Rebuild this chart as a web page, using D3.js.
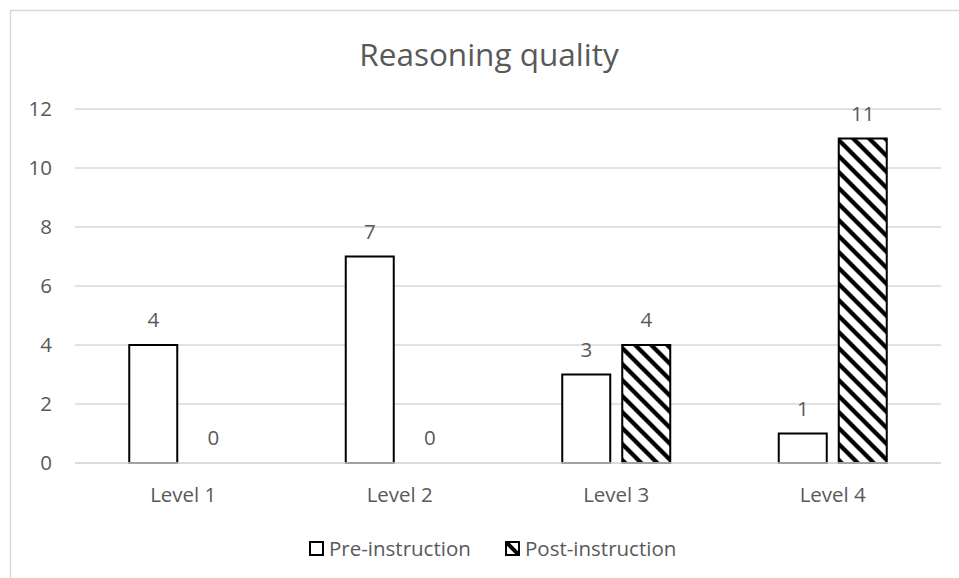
<!DOCTYPE html>
<html>
<head>
<meta charset="utf-8">
<script src="https://cdn.jsdelivr.net/npm/d3@7"></script>
<style>
  html, body { margin: 0; padding: 0; background: #fff; }
  svg { display: block; }
  text { font-family: "Open Sans", "Noto Sans", sans-serif; fill: #595959; }
</style>
</head>
<body>
<svg id="chart" width="959" height="578"></svg>
<script>
const title = "Reasoning quality";
const categories = ["Level 1", "Level 2", "Level 3", "Level 4"];
const seriesNames = ["Pre-instruction", "Post-instruction"];
const preValues = [4, 7, 3, 1];
const postValues = [0, 0, 4, 11];
const yTicks = [0, 2, 4, 6, 8, 10, 12];

const svg = d3.select("#chart");
const W = 959, H = 578;
const plot = { left: 75, right: 941, top: 109, bottom: 463 };

// pattern: wide downward diagonal
const defs = svg.append("defs");
const pat = defs.append("pattern")
  .attr("id", "hatch")
  .attr("patternUnits", "userSpaceOnUse")
  .attr("width", 16).attr("height", 16);
pat.append("rect").attr("width", 16).attr("height", 16).attr("fill", "#fff");
pat.append("path")
  .attr("d", "M-4,-4 L20,20 M-4,12 L4,20 M12,-4 L20,4")
  .attr("stroke", "#000").attr("stroke-width", 4.3);

const legPat = defs.append("pattern")
  .attr("id", "hatchLeg")
  .attr("patternUnits", "userSpaceOnUse")
  .attr("width", 14).attr("height", 14)
  .attr("x", 0).attr("y", 0);
legPat.append("rect").attr("width", 14).attr("height", 14).attr("fill", "#fff");
legPat.append("path")
  .attr("d", "M-3,-3 L17,17")
  .attr("stroke", "#000").attr("stroke-width", 4);

// chart border
svg.append("rect")
  .attr("x", 10.5).attr("y", 10.5)
  .attr("width", 980).attr("height", 600)
  .attr("fill", "none").attr("stroke", "#d9d9d9").attr("stroke-width", 1.5);

const y = d3.scaleLinear().domain([0, 12]).range([plot.bottom, plot.top]);
const x0 = d3.scaleBand().domain(categories).range([plot.left, plot.right]).padding(0);
const groupW = 108;
const x1 = d3.scaleBand().domain(seriesNames).range([0, groupW]).paddingInner(0.2).paddingOuter(0);
const groupOffset = (x0.bandwidth() - groupW) / 2;

// gridlines
svg.append("g").selectAll("line").data(yTicks).join("line")
  .attr("x1", plot.left).attr("x2", plot.right)
  .attr("y1", d => y(d)).attr("y2", d => y(d))
  .attr("stroke", "#d9d9d9").attr("stroke-width", 1.5);

// y tick labels
svg.append("g").selectAll("text").data(yTicks).join("text")
  .attr("x", 52).attr("y", d => y(d))
  .attr("dy", "0.36em")
  .attr("text-anchor", "end")
  .style("font-size", "20.5px")
  .text(d => d);

// bars
const data = categories.map((c, i) => ({ cat: c, values: [
  { s: seriesNames[0], v: preValues[i] },
  { s: seriesNames[1], v: postValues[i] }
]}));

const groups = svg.append("g").selectAll("g").data(data).join("g")
  .attr("transform", d => `translate(${x0(d.cat) + groupOffset},0)`);

groups.selectAll("rect").data(d => d.values.filter(e => e.v > 0)).join("rect")
  .attr("x", d => x1(d.s))
  .attr("y", d => y(d.v))
  .attr("width", x1.bandwidth())
  .attr("height", d => y(0) - y(d.v))
  .attr("fill", d => d.s === seriesNames[0] ? "#fff" : "url(#hatch)")
  .attr("stroke", "#000").attr("stroke-width", 2);

// value labels
groups.selectAll("text").data(d => d.values).join("text")
  .attr("x", d => x1(d.s) + x1.bandwidth() / 2)
  .attr("y", d => y(d.v) - 18)
  .attr("text-anchor", "middle")
  .style("font-size", "20.5px")
  .text(d => d.v);

// baseline axis line over bars
svg.append("line")
  .attr("x1", plot.left).attr("x2", plot.right)
  .attr("y1", y(0)).attr("y2", y(0))
  .attr("stroke", "#d9d9d9").attr("stroke-width", 1.5);

// category labels
svg.append("g").selectAll("text").data(categories).join("text")
  .attr("x", d => x0(d) + x0.bandwidth() / 2)
  .attr("y", 502)
  .attr("text-anchor", "middle")
  .style("font-size", "20.5px")
  .text(d => d);

// title
svg.append("text")
  .attr("x", 489).attr("y", 65.5)
  .attr("text-anchor", "middle")
  .style("font-size", "31.5px")
  .text(title);

// legend
const legendItems = [
  { name: seriesNames[0], x: 309, fill: "#fff" },
  { name: seriesNames[1], x: 505, fill: "url(#hatchLeg)" }
];
const leg = svg.append("g").selectAll("g").data(legendItems).join("g")
  .attr("transform", d => `translate(${d.x},541)`);
leg.append("rect")
  .attr("x", 1).attr("y", 1).attr("width", 13).attr("height", 13)
  .attr("fill", d => d.fill)
  .attr("stroke", "#000").attr("stroke-width", 2);
leg.append("text")
  .attr("x", 20).attr("y", 15)
  .style("font-size", "20.5px")
  .text(d => d.name);
</script>
</body>
</html>
